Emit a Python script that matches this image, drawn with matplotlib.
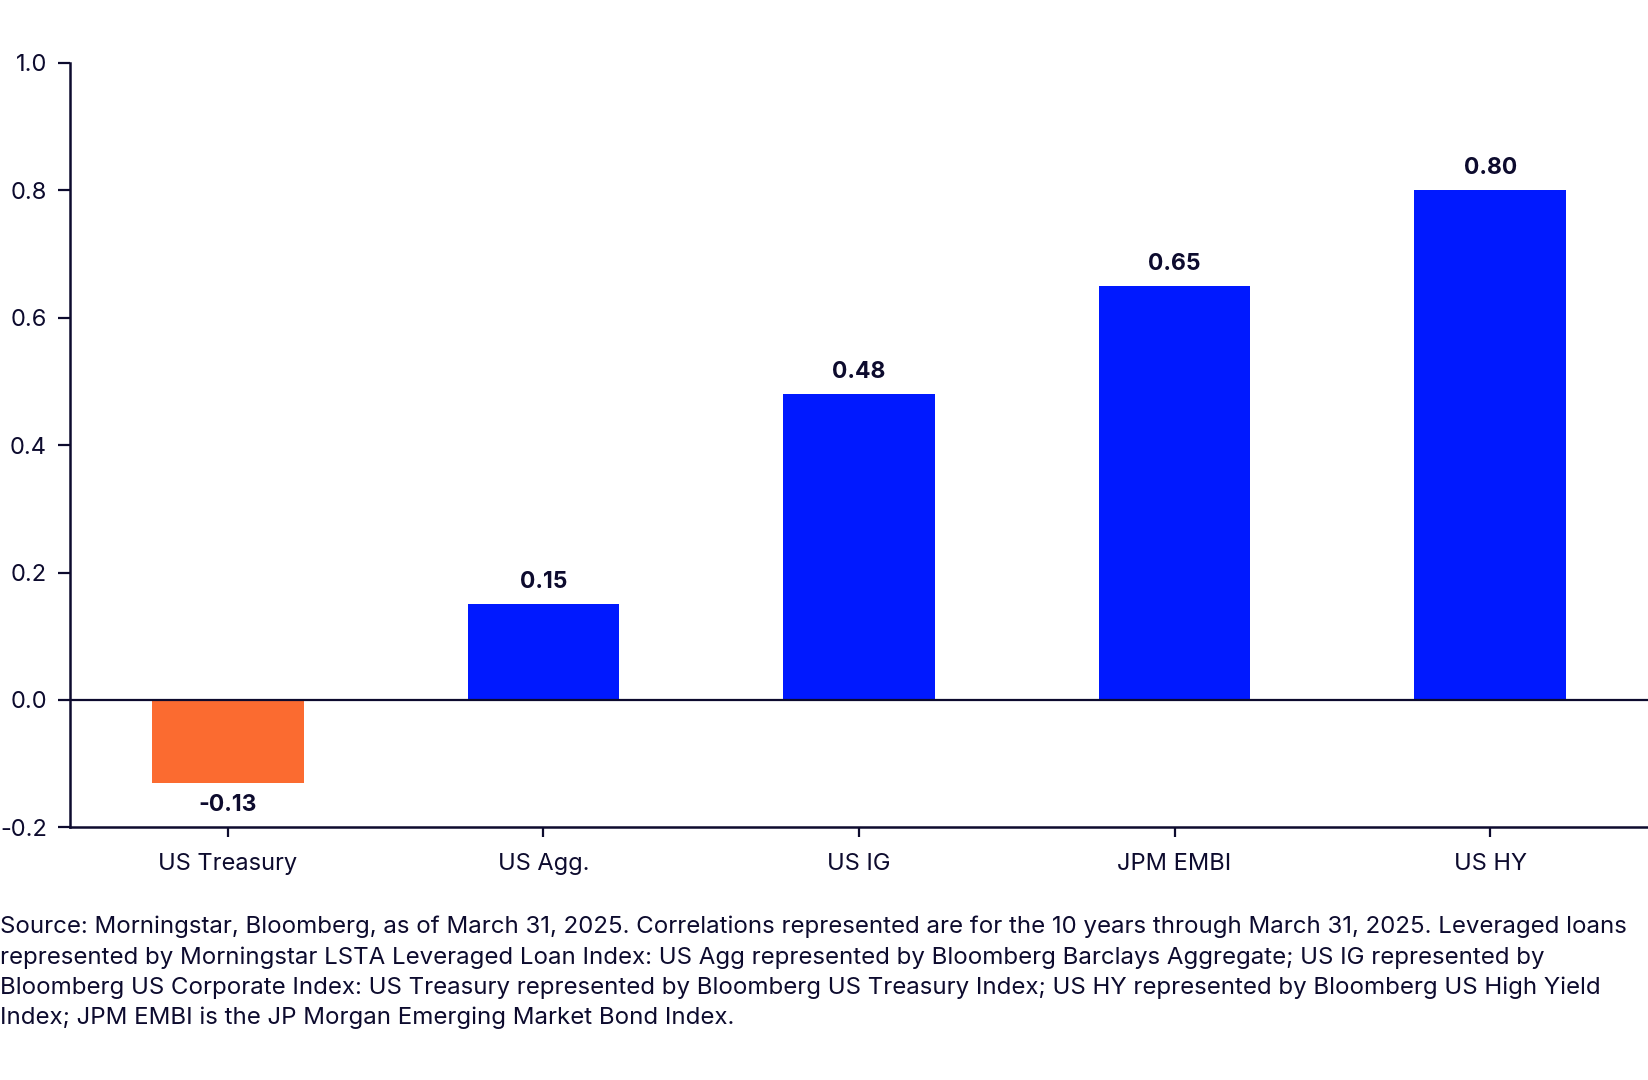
import matplotlib.pyplot as plt

plt.rcParams['font.family'] = ['Inter', 'DejaVu Sans']

# data
categories = ["US Treasury", "US Agg.", "US IG", "JPM EMBI", "US HY"]
correlations = [-0.13, 0.15, 0.48, 0.65, 0.80]
value_labels = ["-0.13", "0.15", "0.48", "0.65", "0.80"]
y_ticks = [-0.2, 0.0, 0.2, 0.4, 0.6, 0.8, 1.0]

navy = '#0d0b2e'
blue = '#0019ff'
orange = '#fb6b30'

fig = plt.figure(figsize=(16.48, 10.8), dpi=100)
ax = fig.add_axes([0.0425, 0.234, 0.9575, 0.7077])

x = list(range(len(categories)))
colors = [orange if v < 0 else blue for v in correlations]
ax.bar(x, correlations, width=0.48, color=colors, zorder=2)

# value labels
for xi, v, lab in zip(x, correlations, value_labels):
    if v >= 0:
        ax.annotate(lab, (xi, v), xytext=(0, 8), textcoords='offset points',
                    ha='center', va='bottom', fontsize=16.5, fontweight='bold', color=navy)
    else:
        ax.annotate(lab, (xi, v), xytext=(0, -8), textcoords='offset points',
                    ha='center', va='top', fontsize=16.5, fontweight='bold', color=navy)

ax.axhline(0, color=navy, linewidth=1.6, zorder=3)

ax.set_xlim(-0.5, 4.5)
ax.set_ylim(-0.2, 1.0)
ax.set_yticks(y_ticks)
ax.set_yticklabels([f"{t:.1f}" for t in y_ticks])
ax.set_xticks(x)
ax.set_xticklabels(categories)

for s in ['top', 'right']:
    ax.spines[s].set_visible(False)
for s in ['left', 'bottom']:
    ax.spines[s].set_color(navy)
    ax.spines[s].set_linewidth(1.8)

ax.tick_params(axis='y', direction='out', length=8.5, width=1.6, color=navy,
               labelsize=17, labelcolor=navy, pad=8)
ax.tick_params(axis='x', direction='out', length=7.5, width=1.6, color=navy,
               labelsize=17, labelcolor=navy, pad=11)

footnote = ("Source: Morningstar, Bloomberg, as of March 31, 2025. Correlations represented are for the 10 years through March 31, 2025. Leveraged loans\n"
            "represented by Morningstar LSTA Leveraged Loan Index: US Agg represented by Bloomberg Barclays Aggregate; US IG represented by\n"
            "Bloomberg US Corporate Index: US Treasury represented by Bloomberg US Treasury Index; US HY represented by Bloomberg US High Yield\n"
            "Index; JPM EMBI is the JP Morgan Emerging Market Bond Index.")
fig.text(0.0, 1 - 916 / 1080, footnote, ha='left', va='top', fontsize=17.3,
         color=navy, linespacing=1.445)

fig.savefig('out.png', dpi=100)
